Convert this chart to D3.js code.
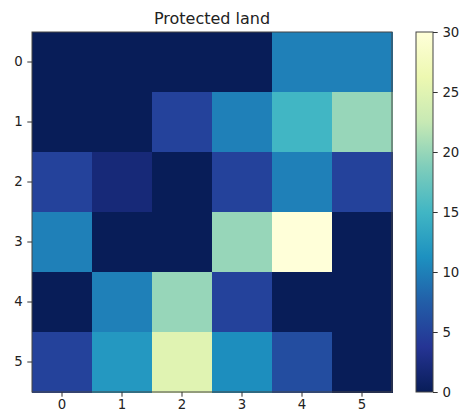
<!DOCTYPE html>
<html><head><meta charset="utf-8">
<script src="https://cdn.jsdelivr.net/npm/d3@7"></script>
<style>body{margin:0;background:#fff;overflow:hidden}svg{display:block}text{font-family:"DejaVu Sans",sans-serif;fill:#222}</style>
</head><body>
<script>
const title = "Protected land";
const rows = [0,1,2,3,4,5];
const cols = [0,1,2,3,4,5];
const values = [
  [0, 0, 0, 0, 10, 10],
  [0, 0, 5, 10, 15, 20],
  [5, 2, 0, 5, 10, 5],
  [10, 0, 0, 20, 30, 0],
  [0, 10, 20, 5, 0, 0],
  [5, 12, 25, 11, 6, 0]
];
const cbTicks = [0,5,10,15,20,25,30];
const ylgnbu = ["#ffffd9","#edf8b1","#c7e9b4","#7fcdbb","#41b6c4","#1d91c0","#225ea8","#253494","#081d58"];

const W=460,H=412;
const svg=d3.select("body").append("svg").attr("width",W).attr("height",H);
const L=32,T=32,S=360;
const FS=13.3, TS=4.7;
const x=d3.scaleBand().domain(cols).range([L,L+S]);
const y=d3.scaleBand().domain(rows).range([T,T+S]);
const cmapDomain = d3.range(9).map(i=>i*30/8);
const color=d3.scaleLinear().domain(cmapDomain).range(ylgnbu.slice().reverse()).interpolate(d3.interpolateRgb).clamp(true);

const cells=[];
values.forEach((r,i)=>r.forEach((v,j)=>cells.push({i,j,v})));
svg.append("g").selectAll("rect").data(cells).join("rect")
  .attr("x",d=>x(d.j)).attr("y",d=>y(d.i))
  .attr("width",x.bandwidth()+0.5).attr("height",y.bandwidth()+0.5)
  .attr("fill",d=>color(d.v)).attr("shape-rendering","crispEdges");
svg.append("rect").attr("x",L).attr("y",T).attr("width",S).attr("height",S)
  .attr("fill","none").attr("stroke","#444").attr("stroke-width",1);

const ax=svg.append("g").attr("transform",`translate(0,${T+S})`)
  .call(d3.axisBottom(x).tickSize(TS).tickPadding(2.4));
const ay=svg.append("g").attr("transform",`translate(${L},0)`)
  .call(d3.axisLeft(y).tickSize(TS).tickPadding(TS));
[ax,ay].forEach(a=>{a.select(".domain").remove();a.selectAll("line").attr("stroke","#333");a.selectAll("text").attr("font-size",FS).attr("fill","#222").style("font-family","DejaVu Sans");});

svg.append("text").attr("x",L+S/2).attr("y",T-8).attr("text-anchor","middle").attr("font-size",16).text(title);

// colorbar
const cbX=416,cbW=17;
const cy=d3.scaleLinear().domain([0,30]).range([T+S,T]);
const defs=svg.append("defs");
const g=defs.append("linearGradient").attr("id","cb").attr("x1",0).attr("y1",1).attr("x2",0).attr("y2",0);
cmapDomain.forEach(d=>g.append("stop").attr("offset",d/30).attr("stop-color",color(d)));
svg.append("rect").attr("x",cbX).attr("y",T).attr("width",cbW).attr("height",S).attr("fill","url(#cb)")
  .attr("stroke","#444").attr("stroke-width",1);
const ac=svg.append("g").attr("transform",`translate(${cbX+cbW},0)`)
  .call(d3.axisRight(cy).tickValues(cbTicks).tickSize(TS).tickPadding(TS));
ac.select(".domain").remove();
ac.selectAll("line").attr("stroke","#333");
ac.selectAll("text").attr("font-size",FS).attr("fill","#222").style("font-family","DejaVu Sans");
</script>
</body></html>
